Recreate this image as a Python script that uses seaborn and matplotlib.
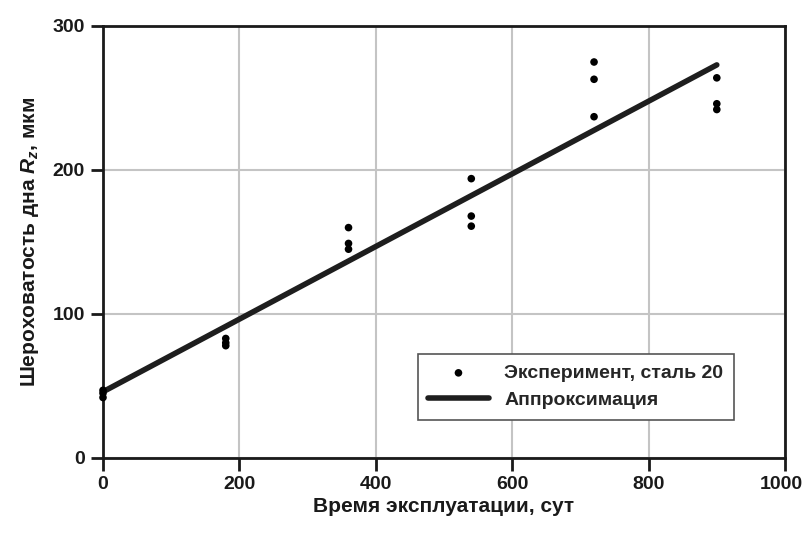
import matplotlib
matplotlib.use("Agg")
import matplotlib.pyplot as plt
import matplotlib.transforms as mtransforms
import seaborn as sns
import pandas as pd

# Data
exp_days = [0, 0, 0, 180, 180, 180, 360, 360, 360, 540, 540, 540, 720, 720, 720, 900, 900, 900]
exp_rz = [47, 45, 42, 83, 80, 78, 160, 149, 145, 194, 168, 161, 275, 263, 237, 264, 246, 242]
fit_days = [0, 900]
fit_rz = [46, 273]
x_ticks = [0, 200, 400, 600, 800, 1000]
y_ticks = [0, 100, 200, 300]

sns.set_theme(style="white")
plt.rcParams["font.family"] = ["Liberation Sans", "DejaVu Sans"]
plt.rcParams["mathtext.fontset"] = "custom"
plt.rcParams["mathtext.it"] = "Liberation Sans:italic:bold"
plt.rcParams["mathtext.rm"] = "Liberation Sans:bold"

df_exp = pd.DataFrame({"days": exp_days, "rz": exp_rz})
df_fit = pd.DataFrame({"days": fit_days, "rz": fit_rz})

fig = plt.figure(figsize=(8.05, 5.34), dpi=100)
ax = fig.add_axes([103 / 805, 1 - 458 / 534, (785 - 103) / 805, (458 - 26) / 534])

sns.lineplot(data=df_fit, x="days", y="rz", ax=ax, color="#1e1e1e", linewidth=4,
             label="Аппроксимация", zorder=3)
sns.scatterplot(data=df_exp, x="days", y="rz", ax=ax, color="black", s=30,
                edgecolor="none", label="Эксперимент, сталь 20", zorder=4, clip_on=False)

ax.set_xlim(0, 1000)
ax.set_ylim(0, 300)
ax.set_xticks(x_ticks)
ax.set_yticks(y_ticks)
ax.grid(True, color="#c4c4c4", linewidth=1.5)
ax.set_axisbelow(True)
for sp in ax.spines.values():
    sp.set_visible(True)
    sp.set_color("#1a1a1a")
    sp.set_linewidth(2)
ax.tick_params(axis="both", direction="out", length=9, width=2, color="#1a1a1a",
               labelsize=14, pad=4, bottom=True, left=True)
for lab in ax.get_xticklabels() + ax.get_yticklabels():
    lab.set_fontweight("bold")
    lab.set_color("#1a1a1a")
last = ax.get_xticklabels()[-1]
last.set_transform(last.get_transform() + mtransforms.ScaledTranslation(-4 / 100, 0, fig.dpi_scale_trans))

ax.set_xlabel("Время эксплуатации, сут", fontsize=15, fontweight="bold", color="#1a1a1a", labelpad=3)
ax.set_ylabel(r"Шероховатость дна $R_z$, мкм", fontsize=15, fontweight="bold", color="#1a1a1a", labelpad=8)

handles, labels = ax.get_legend_handles_labels()
order = [labels.index("Эксперимент, сталь 20"), labels.index("Аппроксимация")]
leg = ax.legend([handles[i] for i in order], [labels[i] for i in order],
                loc="lower right", bbox_to_anchor=(0.925, 0.088),
                frameon=True, fancybox=False, framealpha=1, edgecolor="#555555",
                prop={"weight": "bold", "size": 14}, handlelength=3.1, handletextpad=0.8,
                borderpad=0.55, labelspacing=0.5, borderaxespad=0)
leg.get_frame().set_linewidth(1.2)

fig.savefig("out.png", dpi=100)
